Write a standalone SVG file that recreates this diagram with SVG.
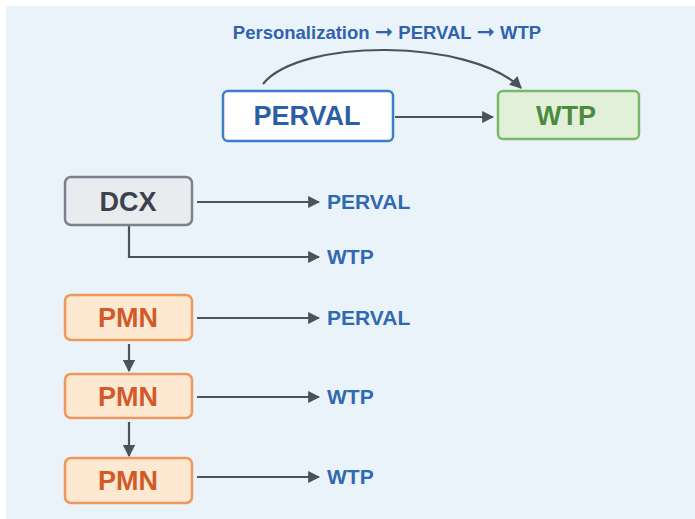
<svg xmlns="http://www.w3.org/2000/svg" width="695" height="519" viewBox="0 0 695 519">
<style>
.t{font-family:"Liberation Sans",Arial,sans-serif;font-weight:700}
.ar{font-family:"DejaVu Sans",sans-serif;font-weight:700;font-size:22px}
.lbl{font-size:21px;fill:#2f69b1}
.node{font-size:27px;text-anchor:middle}
.ln{stroke:#4a5260;stroke-width:2.2;fill:none}
</style>
<defs>
<marker id="ah" viewBox="0 0 10 10" refX="9" refY="5" markerWidth="5.5" markerHeight="5.5" orient="auto" markerUnits="strokeWidth">
<path d="M0,0 L10,5 L0,10 z" fill="#4a5260"/>
</marker>
</defs>
<rect x="0" y="0" width="695" height="519" fill="#ffffff"/>
<rect x="6" y="6" width="689" height="513" fill="#ebf3fa"/>
<text class="t" x="387" y="39" font-size="18.5" fill="#2f63ad" text-anchor="middle">Personalization <tspan class="ar">➞</tspan> PERVAL <tspan class="ar">➞</tspan> WTP</text>
<g id="connectors">
<path class="ln" d="M263,84 C300,38 470,38 521,88" marker-end="url(#ah)"/>
<line class="ln" x1="395" y1="117" x2="493" y2="117" marker-end="url(#ah)"/>
<line class="ln" x1="197" y1="202" x2="319" y2="202" marker-end="url(#ah)"/>
<path class="ln" d="M129,226 V257 H319" marker-end="url(#ah)"/>
<line class="ln" x1="197" y1="318" x2="319" y2="318" marker-end="url(#ah)"/>
<line class="ln" x1="129" y1="344" x2="129" y2="371" marker-end="url(#ah)"/>
<line class="ln" x1="197" y1="397" x2="319" y2="397" marker-end="url(#ah)"/>
<line class="ln" x1="129" y1="422" x2="129" y2="456" marker-end="url(#ah)"/>
<line class="ln" x1="197" y1="477" x2="319" y2="477" marker-end="url(#ah)"/>
</g>
<g id="perval">
<rect x="223" y="91" width="170" height="50" rx="5" fill="#ffffff" stroke="#3b7dc8" stroke-width="2.5"/>
<text class="t node" x="307" y="125" font-size="27" fill="#2a5ea6">PERVAL</text>
</g>
<g id="wtp">
<rect x="498" y="91" width="141" height="48" rx="5" fill="#e3f0d9" stroke="#79b86a" stroke-width="2.5"/>
<text class="t node" x="566" y="125" font-size="28" fill="#4c8b3d">WTP</text>
</g>
<g id="dcx">
<rect x="65" y="177" width="127" height="48" rx="6" fill="#e9ebee" stroke="#7b828e" stroke-width="2.5"/>
<text class="t node" x="128" y="211" fill="#3c4350">DCX</text>
</g>
<g id="pmn1">
<rect x="65" y="295" width="127" height="45" rx="6" fill="#fde9d2" stroke="#f0985a" stroke-width="2.5"/>
<text class="t node" x="128" y="327" fill="#d25a28">PMN</text>
</g>
<g id="pmn2">
<rect x="65" y="374" width="127" height="44" rx="6" fill="#fde9d2" stroke="#f0985a" stroke-width="2.5"/>
<text class="t node" x="128" y="406" fill="#d25a28">PMN</text>
</g>
<g id="pmn3">
<rect x="65" y="458" width="127" height="45" rx="6" fill="#fde9d2" stroke="#f0985a" stroke-width="2.5"/>
<text class="t node" x="128" y="490" fill="#d25a28">PMN</text>
</g>
<g id="labels">
<text class="t lbl" x="327" y="209">PERVAL</text>
<text class="t lbl" x="327" y="264">WTP</text>
<text class="t lbl" x="327" y="325">PERVAL</text>
<text class="t lbl" x="327" y="404">WTP</text>
<text class="t lbl" x="327" y="484">WTP</text>
</g>
</svg>
